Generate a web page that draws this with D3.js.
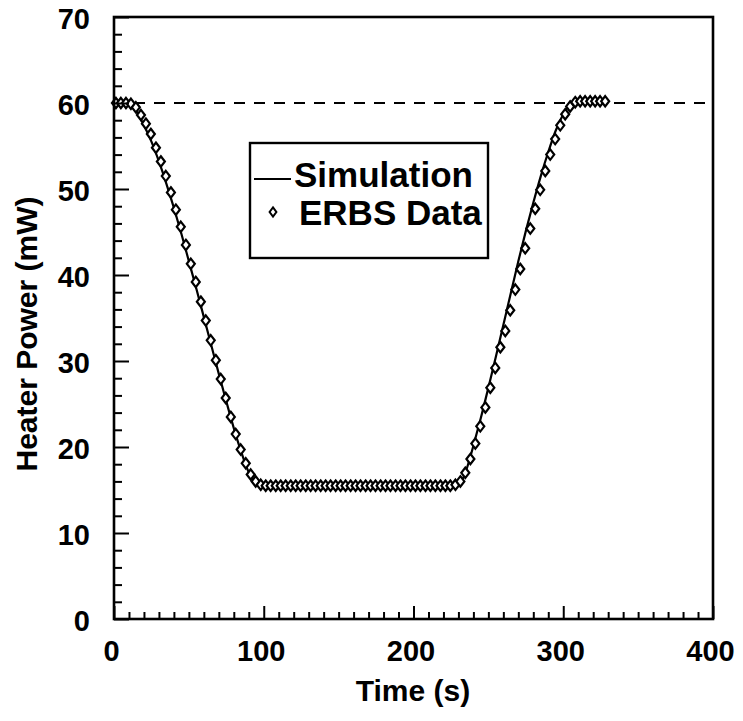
<!DOCTYPE html>
<html>
<head>
<meta charset="utf-8">
<script src="https://cdn.jsdelivr.net/npm/d3@7"></script>
<style>
  html, body { margin: 0; padding: 0; background: #fff; }
  svg { display: block; }
  text { font-family: "Liberation Sans", Arial, Helvetica, sans-serif; fill: #000; }
</style>
</head>
<body>
<svg id="chart" width="743" height="721"></svg>
<script>
// ---------- data ----------
const xMajorTicks = [0, 100, 200, 300, 400];
const yMajorTicks = [0, 10, 20, 30, 40, 50, 60, 70];
const xTickLabels = ["0", "100", "200", "300", "400"];
const yTickLabels = ["0", "10", "20", "30", "40", "50", "60", "70"];

const setPoint = 60; // dashed reference line (mW)

// ERBS Data (diamonds)
const dataTime = [
  1.3, 4.6, 8.0, 11.3, 14.6, 18.0, 21.3, 24.6, 28.0, 31.3,
  34.6, 38.0, 41.3, 44.6, 48.0, 51.3, 54.6, 58.0, 61.3, 64.6,
  68.0, 71.3, 74.6, 78.0, 81.3, 84.6, 88.0, 91.3, 94.6, 98.0,
  101.3, 104.6, 108.0, 111.3, 114.6, 118.0, 121.3, 124.6, 128.0, 131.3,
  134.6, 138.0, 141.3, 144.6, 148.0, 151.3, 154.6, 158.0, 161.3, 164.6,
  168.0, 171.3, 174.6, 178.0, 181.3, 184.6, 188.0, 191.3, 194.6, 198.0,
  201.3, 204.6, 208.0, 211.3, 214.6, 218.0, 221.3, 224.6, 228.0, 231.3,
  234.6, 238.0, 241.3, 244.6, 248.0, 251.3, 254.6, 258.0, 261.3, 264.6,
  268.0, 271.3, 274.6, 278.0, 281.3, 284.6, 288.0, 291.3, 294.6, 298.0,
  301.3, 304.6, 308.0, 311.3, 314.6, 318.0, 321.3, 324.6, 328.0
];
const dataPower = [
  60.0, 60.0, 60.0, 59.9, 59.5, 58.6, 57.6, 56.4, 54.8, 53.2,
  51.5, 49.6, 47.6, 45.6, 43.5, 41.3, 39.2, 36.9, 34.7, 32.4,
  30.1, 27.9, 25.7, 23.5, 21.5, 19.7, 18.1, 16.8, 16.0, 15.6,
  15.5, 15.5, 15.5, 15.5, 15.5, 15.5, 15.5, 15.5, 15.5, 15.5,
  15.5, 15.5, 15.5, 15.5, 15.5, 15.5, 15.5, 15.5, 15.5, 15.5,
  15.5, 15.5, 15.5, 15.5, 15.5, 15.5, 15.5, 15.5, 15.5, 15.5,
  15.5, 15.5, 15.5, 15.5, 15.5, 15.5, 15.5, 15.5, 15.6, 16.0,
  17.0, 18.6, 20.4, 22.4, 24.6, 26.9, 29.2, 31.6, 33.5, 35.9,
  38.3, 40.7, 43.1, 45.4, 47.7, 49.9, 52.1, 54.0, 55.8, 57.4,
  58.7, 59.6, 60.1, 60.2, 60.2, 60.2, 60.2, 60.2, 60.2
];

// Simulation (solid line)
const simTime = [
  0, 5, 10, 13, 16, 20, 25, 30, 35, 40,
  45, 50, 55, 60, 65, 70, 75, 80, 85, 88,
  91, 94, 97, 100, 150, 200, 230, 232, 235, 238,
  241, 245, 250, 255, 260, 265, 270, 275, 280, 285,
  290, 295, 300, 304, 307, 310, 320, 328
];
const simPower = [
  60.0, 60.0, 59.9, 59.5, 58.7, 57.4, 55.5, 53.2, 50.6, 47.8,
  44.8, 41.6, 38.4, 35.1, 31.8, 28.5, 25.3, 22.2, 19.4, 17.9,
  16.7, 16.0, 15.7, 15.6, 15.6, 15.6, 15.6, 16.0, 17.2, 18.9,
  20.8, 23.4, 26.9, 30.5, 34.2, 37.9, 41.6, 45.1, 48.4, 51.5,
  54.3, 56.8, 58.7, 59.8, 60.1, 60.2, 60.2, 60.2
];

const legendLabels = ["Simulation", "ERBS Data"];
const xTitle = "Time (s)";
const yTitle = "Heater Power (mW)";

// ---------- layout ----------
const svg = d3.select("#chart");
const pL = 114, pR = 713, pT = 17, pB = 619;
const x = d3.scaleLinear().domain([0, 400]).range([pL, pR]);
const y = d3.scaleLinear().domain([0, 70]).range([pB, pT]);
const FONT = "bold";

// dashed set-point line
svg.append("line")
  .attr("x1", x(0)).attr("x2", x(400))
  .attr("y1", y(setPoint)).attr("y2", y(setPoint))
  .attr("stroke", "#000").attr("stroke-width", 2.2)
  .attr("stroke-dasharray", "11,9");

// simulation line
const simData = simTime.map((t, i) => [t, simPower[i]]);
svg.append("path")
  .datum(simData)
  .attr("fill", "none").attr("stroke", "#000").attr("stroke-width", 2.2)
  .attr("d", d3.line().x(d => x(d[0])).y(d => y(d[1])).curve(d3.curveMonotoneX));

// diamonds
const diamond = (cx, cy, w, h) => `M${cx},${cy - h} L${cx + w},${cy} L${cx},${cy + h} L${cx - w},${cy} Z`;
const pts = dataTime.map((t, i) => [t, dataPower[i]]);
svg.append("g").selectAll("path").data(pts).enter().append("path")
  .attr("d", d => diamond(x(d[0]), y(d[1]), 4.0, 5.2))
  .attr("fill", "#fff").attr("stroke", "#000").attr("stroke-width", 2.2);

// frame
svg.append("rect")
  .attr("x", pL).attr("y", pT).attr("width", pR - pL).attr("height", pB - pT)
  .attr("fill", "none").attr("stroke", "#000").attr("stroke-width", 2.6);

// x axis (inward ticks)
const xMinor = d3.range(0, 401, 10).filter(v => v % 100 !== 0);
const gx = svg.append("g").attr("transform", `translate(0,${pB})`);
gx.call(d3.axisBottom(x).tickValues(xMinor).tickSizeInner(-7).tickSizeOuter(0).tickFormat(""));
gx.select(".domain").remove();
const gx2 = svg.append("g").attr("transform", `translate(0,${pB})`);
gx2.call(d3.axisBottom(x).tickValues(xMajorTicks).tickSizeInner(-13).tickSizeOuter(0)
  .tickFormat((d, i) => xTickLabels[i]));
gx2.select(".domain").remove();
gx2.selectAll("text").attr("y", 21).attr("dx", -3)
  .style("font-size", "29px").style("font-weight", FONT);

// y axis (inward ticks)
const yMinor = d3.range(0, 71, 2).filter(v => v % 10 !== 0);
const gy = svg.append("g").attr("transform", `translate(${pL},0)`);
gy.call(d3.axisLeft(y).tickValues(yMinor).tickSizeInner(-8).tickSizeOuter(0).tickFormat(""));
gy.select(".domain").remove();
const gy2 = svg.append("g").attr("transform", `translate(${pL},0)`);
gy2.call(d3.axisLeft(y).tickValues(yMajorTicks).tickSizeInner(-15).tickSizeOuter(0)
  .tickFormat((d, i) => yTickLabels[i]));
gy2.select(".domain").remove();
gy2.selectAll("text").attr("x", -24).attr("dy", "0.38em")
  .style("font-size", "29px").style("font-weight", FONT);
svg.selectAll(".tick line").attr("stroke", "#000").attr("stroke-width", 2);
svg.selectAll(".tick text").attr("fill", "#000").attr("font-family", null);

// axis titles
svg.append("text")
  .attr("x", 413).attr("y", 701).attr("text-anchor", "middle")
  .style("font-size", "30px").style("font-weight", FONT)
  .text(xTitle);
svg.append("text")
  .attr("transform", "translate(37,334) rotate(-90)")
  .attr("text-anchor", "middle")
  .style("font-size", "30px").style("font-weight", FONT)
  .text(yTitle);

// legend
const lg = svg.append("g");
lg.append("rect")
  .attr("x", 250).attr("y", 143).attr("width", 238).attr("height", 115)
  .attr("fill", "#fff").attr("stroke", "#000").attr("stroke-width", 2.4);
lg.append("line")
  .attr("x1", 254).attr("x2", 291).attr("y1", 179).attr("y2", 179)
  .attr("stroke", "#000").attr("stroke-width", 2);
lg.append("text").attr("x", 294).attr("y", 187)
  .style("font-size", "35px").style("font-weight", FONT).text(legendLabels[0]);
lg.append("path").attr("d", diamond(273, 212, 3.4, 4.6))
  .attr("fill", "#fff").attr("stroke", "#000").attr("stroke-width", 2);
lg.append("text").attr("x", 299).attr("y", 225)
  .style("font-size", "35px").style("font-weight", FONT).text(legendLabels[1]);
</script>
</body>
</html>
